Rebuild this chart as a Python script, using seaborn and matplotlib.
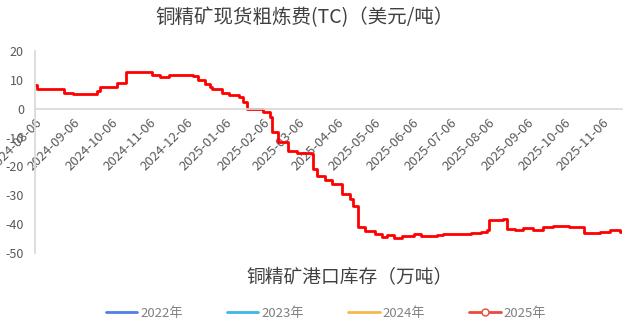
import matplotlib
matplotlib.use('Agg')
import matplotlib.pyplot as plt
import matplotlib.transforms as mtransforms
import seaborn as sns
import pandas as pd
from matplotlib.lines import Line2D

# ---- data ----
dates = ['2024-08-06', '2024-08-08', '2024-08-29', '2024-09-06', '2024-09-25', '2024-09-27',
         '2024-10-11', '2024-10-18', '2024-11-08', '2024-11-15', '2024-11-22', '2024-12-11',
         '2024-12-15', '2024-12-21', '2024-12-25', '2024-12-27', '2025-01-04', '2025-01-09',
         '2025-01-17', '2025-01-21', '2025-01-24', '2025-02-06', '2025-02-11', '2025-02-13',
         '2025-02-18', '2025-02-26', '2025-03-05', '2025-03-13', '2025-03-17', '2025-03-18',
         '2025-03-21', '2025-03-28', '2025-04-02', '2025-04-10', '2025-04-17', '2025-04-19',
         '2025-04-23', '2025-04-29', '2025-05-07', '2025-05-13', '2025-05-17', '2025-05-22',
         '2025-05-29', '2025-06-07', '2025-06-13', '2025-06-26', '2025-07-01', '2025-07-15',
         '2025-07-23', '2025-07-31', '2025-08-05', '2025-08-07', '2025-08-18', '2025-08-21',
         '2025-08-28', '2025-09-03', '2025-09-11', '2025-09-19', '2025-09-27', '2025-10-10',
         '2025-10-22', '2025-10-31', '2025-11-04', '2025-11-12', '2025-11-20', '2025-11-21']
tc_values = [8.3, 6.8, 5.4, 5.0, 6.0, 7.5,
             8.9, 12.8, 11.7, 11.1, 11.6, 11.2,
             10.1, 8.6, 7.6, 6.8, 5.4, 4.9,
             3.9, 2.5, 0.0, -1.0, -3.0, -8.2,
             -11.7, -14.6, -15.4, -15.2, -15.7, -20.8,
             -23.3, -24.8, -26.2, -29.4, -31.4, -33.7,
             -41.0, -42.4, -43.5, -44.4, -43.6, -44.7,
             -44.0, -43.4, -44.1, -43.6, -43.5, -43.3,
             -43.2, -42.7, -42.1, -38.5, -38.3, -41.8,
             -42.0, -41.2, -42.0, -41.1, -40.6, -41.0,
             -43.2, -43.0, -42.7, -42.0, -42.6, -42.6]
x_ticks = ['2024-08-06', '2024-09-06', '2024-10-06', '2024-11-06', '2024-12-06',
           '2025-01-06', '2025-02-06', '2025-03-06', '2025-04-06', '2025-05-06',
           '2025-06-06', '2025-07-06', '2025-08-06', '2025-09-06', '2025-10-06', '2025-11-06']
y_ticks = [20, 10, 0, -10, -20, -30, -40, -50]
legend_years = ['2022年', '2023年', '2024年', '2025年']
legend_colors = ['#4f7fe8', '#3db7e4', '#f7b84b', '#ea4b3c']

title_main = '铜精矿现货粗炼费(TC)（美元/吨）'
title_second = '铜精矿港口库存（万吨）'

sns.set_theme(style='white')
plt.rcParams['font.family'] = ['Noto Sans CJK SC', 'DejaVu Sans']

fig = plt.figure(figsize=(6.4, 3.19), dpi=100)
ax = fig.add_axes([35 / 640, 1 - 253 / 319, (622 - 35) / 640, (253 - 51) / 319])

df = pd.DataFrame({'date': pd.to_datetime(dates), 'tc': tc_values})
sns.lineplot(data=df, x='date', y='tc', ax=ax, color='#ff0000', linewidth=2.0,
             drawstyle='steps-post', estimator=None, legend=False)

ax.set_xlim(pd.Timestamp('2024-08-06'), pd.Timestamp('2025-11-22'))
ax.set_ylim(-50, 20)
ax.set_yticks(y_ticks)
ax.set_yticklabels([str(v) for v in y_ticks])
ax.set_xticks(pd.to_datetime(x_ticks))
ax.set_xticklabels(x_ticks)
ax.set_xlabel('')
ax.set_ylabel('')

for s in ['top', 'right']:
    ax.spines[s].set_visible(False)
ax.spines['left'].set_color('#d9d9d9')
ax.spines['bottom'].set_color('#d9d9d9')
ax.spines['bottom'].set_position(('data', 0))
ax.tick_params(axis='x', direction='out', length=5, width=1, color='#d9d9d9',
               labelsize=9.5, labelcolor='#595959', pad=2, labelrotation=45)
ax.tick_params(axis='y', length=0, labelsize=9, labelcolor='#595959', pad=8)
ax.grid(False)
offset = mtransforms.ScaledTranslation(5 / 100, -2 / 100, fig.dpi_scale_trans)
for lbl in ax.get_xticklabels():
    lbl.set_rotation(45)
    lbl.set_ha('right')
    lbl.set_va('center')
    lbl.set_rotation_mode('anchor')
    lbl.set_transform(lbl.get_transform() + offset)

fig.text(305 / 640, 1 - 18 / 319, title_main, ha='center', va='center',
         fontsize=14, color='#404040')
fig.text(350 / 640, 1 - 278 / 319, title_second, ha='center', va='center',
         fontsize=13.5, color='#404040')

handles = []
for i, c in enumerate(legend_colors):
    if i == len(legend_colors) - 1:
        handles.append(Line2D([], [], color=c, lw=2, marker='o', markersize=5,
                              markerfacecolor='white', markeredgecolor=c))
    else:
        handles.append(Line2D([], [], color=c, lw=2))
fig.legend(handles, legend_years, loc='center', bbox_to_anchor=(326 / 640, 1 - 313 / 319),
           ncol=4, frameon=False, fontsize=9.5, handlelength=2.4, handletextpad=0.25,
           columnspacing=3.3, labelcolor='#808080', borderaxespad=0, borderpad=0)

fig.savefig('out.png', dpi=100)
